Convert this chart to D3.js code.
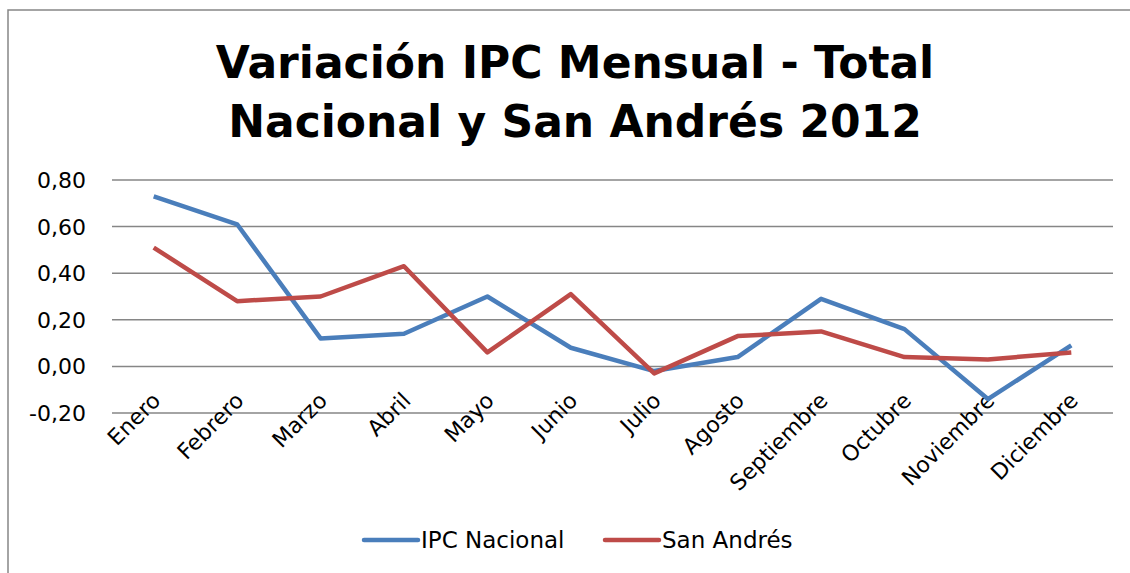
<!DOCTYPE html>
<html>
<head>
<meta charset="utf-8">
<script src="https://cdn.jsdelivr.net/npm/d3@7"></script>
<style>
  body { margin: 0; background: #fff; }
  svg text { font-family: "DejaVu Sans", Verdana, sans-serif; fill: #000; }
</style>
</head>
<body>
<div id="chart"></div>
<script>
// data
const months = ["Enero", "Febrero", "Marzo", "Abril", "Mayo", "Junio", "Julio",
  "Agosto", "Septiembre", "Octubre", "Noviembre", "Diciembre"];
const ipcNacional = [0.73, 0.61, 0.12, 0.14, 0.30, 0.08, -0.02, 0.04, 0.29, 0.16, -0.14, 0.09];
const sanAndres = [0.51, 0.28, 0.30, 0.43, 0.06, 0.31, -0.03, 0.13, 0.15, 0.04, 0.03, 0.06];
const yTicks = [-0.2, 0, 0.2, 0.4, 0.6, 0.8];
const titleLines = ["Variación IPC Mensual - Total", "Nacional y San Andrés 2012"];

const series = [
  {name: "IPC Nacional", values: ipcNacional, color: "#4a7ebb"},
  {name: "San Andrés", values: sanAndres, color: "#be4b48"}
];

const W = 1130, H = 573;
const margin = {top: 180, right: 17, bottom: 160, left: 112};

const svg = d3.select("#chart").append("svg")
  .attr("width", W)
  .attr("height", H);

// outer chart border (runs past the right/bottom edges of the picture)
svg.append("rect")
  .attr("x", 8).attr("y", 10)
  .attr("width", W + 20).attr("height", H + 20)
  .attr("fill", "none")
  .attr("stroke", "#868686")
  .attr("stroke-width", 1.5);

// title
svg.append("text")
  .attr("x", 575)
  .attr("text-anchor", "middle")
  .attr("font-size", 44)
  .attr("font-weight", "bold")
  .selectAll("tspan")
  .data(titleLines)
  .enter().append("tspan")
  .attr("x", 575)
  .attr("y", (d, i) => 78 + i * 59)
  .text(d => d);

const x = d3.scaleBand()
  .domain(months)
  .range([margin.left, W - margin.right]);

const y = d3.scaleLinear()
  .domain([-0.2, 0.8])
  .range([413, 180]);

// gridlines
svg.append("g")
  .selectAll("line")
  .data(yTicks)
  .enter().append("line")
  .attr("x1", margin.left)
  .attr("x2", W - margin.right)
  .attr("y1", d => y(d))
  .attr("y2", d => y(d))
  .attr("stroke", "#868686")
  .attr("stroke-width", 1.5);

// y axis labels
const fmt = d3.format(".2f");
svg.append("g")
  .selectAll("text")
  .data(yTicks)
  .enter().append("text")
  .attr("x", 86)
  .attr("y", d => y(d))
  .attr("dy", "0.36em")
  .attr("text-anchor", "end")
  .attr("font-size", 22)
  .text(d => fmt(d).replace("−", "-").replace(".", ","));

// x axis labels, rotated
svg.append("g")
  .selectAll("text")
  .data(months)
  .enter().append("text")
  .attr("text-anchor", "end")
  .attr("font-size", 22)
  .attr("transform", d => {
    const cx = x(d) + x.bandwidth() / 2 + 8;
    return "translate(" + cx + ",402) rotate(-45)";
  })
  .text(d => d);

// lines
const line = d3.line()
  .x((d, i) => x(months[i]) + x.bandwidth() / 2)
  .y(d => y(d));

svg.append("g")
  .selectAll("path")
  .data(series)
  .enter().append("path")
  .attr("d", d => line(d.values))
  .attr("fill", "none")
  .attr("stroke", d => d.color)
  .attr("stroke-width", 4.5)
  .attr("stroke-linejoin", "round");

// legend
const legendPos = [362, 603];
const lg = svg.append("g")
  .selectAll("g")
  .data(series)
  .enter().append("g")
  .attr("transform", (d, i) => "translate(" + legendPos[i] + ",540)");
lg.append("line")
  .attr("x1", 2).attr("x2", 56)
  .attr("stroke", d => d.color)
  .attr("stroke-width", 4.5)
  .attr("stroke-linecap", "round");
lg.append("text")
  .attr("x", 59)
  .attr("dy", "0.36em")
  .attr("font-size", 23)
  .text(d => d.name);
</script>
</body>
</html>
